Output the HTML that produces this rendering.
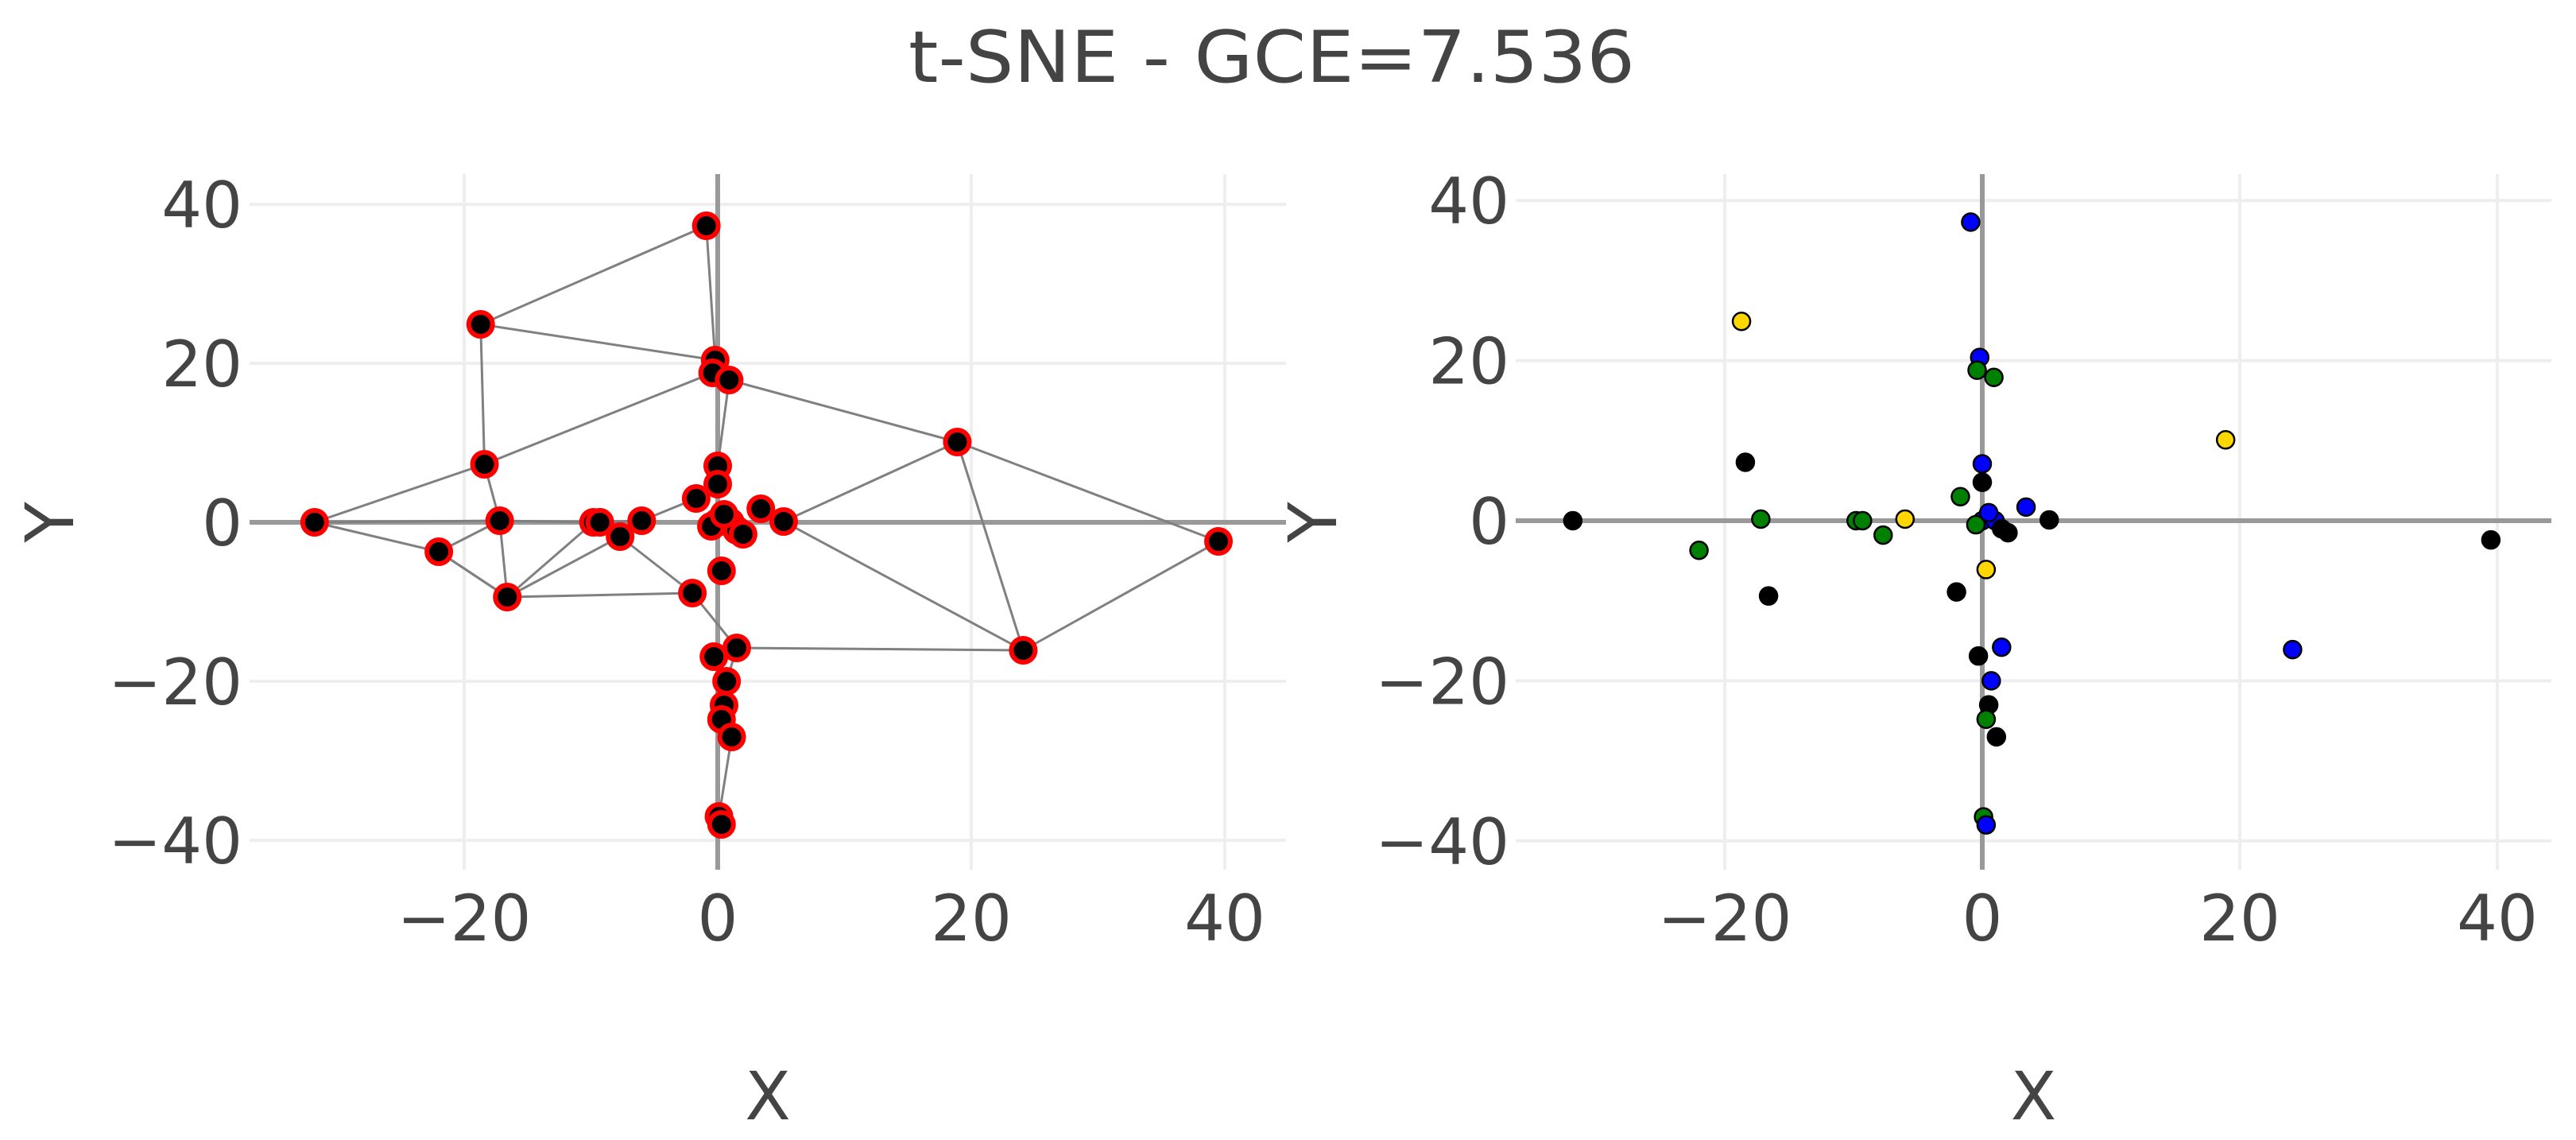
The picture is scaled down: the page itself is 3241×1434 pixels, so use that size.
<!DOCTYPE html>
<html><head><meta charset="utf-8"><style>
html,body{margin:0;padding:0;background:#fff;}
svg{display:block;}
text{font-family:"DejaVu Sans","Liberation Sans",sans-serif;fill:#444;}
</style></head><body>
<svg id="chart" width="3241" height="1434" viewBox="0 0 3241 1434" xmlns="http://www.w3.org/2000/svg">
<rect width="3241" height="1434" fill="#fff"/>
<text x="1600" y="103" font-size="90" text-anchor="middle" textLength="914" lengthAdjust="spacingAndGlyphs">t-SNE - GCE=7.536</text>
<g id="left"></g>
<g id="right"></g>
</svg>
<script>
const xTicks = [-20, 0, 20, 40];
const yTicks = [-40, -20, 0, 20, 40];
const xTickLabels = ["\u221220", "0", "20", "40"];
const yTickLabels = ["\u221240", "\u221220", "0", "20", "40"];
const pointX = [-0.9,-18.7,-0.2,-0.4,0.9,18.9,-18.4,0,0,-31.8,-17.2,-9.8,-9.3,-6.0,-7.7,-22.0,-1.7,3.4,5.2,0,1,-0.5,1.5,2,0.5,39.5,0.3,-16.6,-2.0,-0.3,1.5,24.1,0.7,0.5,0.3,1.1,0.1,0.3];
const pointY = [37.3,24.9,20.4,18.8,17.9,10.1,7.3,7.1,4.8,0,0.2,0,0,0.2,-1.8,-3.7,3.0,1.7,0.1,0,0,-0.5,-1,-1.5,1,-2.4,-6.1,-9.4,-8.9,-16.9,-15.8,-16.1,-20.0,-23.0,-24.8,-27.0,-37.0,-38.0];
const pointClass = ["blue","yellow","blue","green","green","yellow","black","blue","black","black","green","green","green","yellow","green","green","green","blue","black","blue","blue","green","black","black","blue","black","yellow","black","black","black","blue","blue","blue","black","green","black","green","blue"];
const edgeFrom = [0,0,1,1,3,4,4,5,5,5,6,6,9,15,15,15,10,27,27,27,14,13,28,30,31,18,36,9,10,12,34,33,32];
const edgeTo   = [1,2,2,6,6,5,7,25,31,18,9,10,15,10,27,27,27,11,14,28,28,16,30,31,25,31,35,10,11,13,33,32,30];
const classColors = {blue:"#0000ff", yellow:"#ffd700", green:"#008000", black:"#000000"};

const NS = "http://www.w3.org/2000/svg";
function mk(parent, tag, attrs){const e=document.createElementNS(NS,tag);for(const k in attrs)e.setAttribute(k,attrs[k]);parent.appendChild(e);return e;}

function drawPanel(g, L, R, T, B, x0px, xScale, y0px, yScale, mode, ytx){
  const sx = v => x0px + v*xScale;
  const sy = v => y0px - v*yScale;
  xTicks.forEach((t,i)=>{
    const l = mk(g,"line",{x1:sx(t),x2:sx(t),y1:T,y2:B,stroke:"#eeeeee","stroke-width":4});
    
    
    const tx = mk(g,"text",{x:sx(t),y:1183,"font-size":80,"text-anchor":"middle"});
    tx.textContent = xTickLabels[i];
    
    
  });
  yTicks.forEach((t,i)=>{
    const l = mk(g,"line",{x1:L,x2:R,y1:sy(t),y2:sy(t),stroke:"#eeeeee","stroke-width":4});
    
    
    const tx = mk(g,"text",{x:ytx,y:sy(t)+29,"font-size":80,"text-anchor":"end"});
    tx.textContent = yTickLabels[i];
    
    
  });
  const zx = mk(g,"line",{x1:L,x2:R,y1:sy(0),y2:sy(0),stroke:"#999","stroke-width":6});
  
  
  const zy = mk(g,"line",{x1:sx(0),x2:sx(0),y1:T,y2:B,stroke:"#999","stroke-width":6});
  
  
  if(mode==="graph"){
    edgeFrom.forEach((a,i)=>{
      const b = edgeTo[i];
      const e = mk(g,"line",{x1:sx(pointX[a]),y1:sy(pointY[a]),x2:sx(pointX[b]),y2:sy(pointY[b]),stroke:"#808080","stroke-width":3});
      
      
    });
    pointX.forEach((x,i)=>{
      const c = mk(g,"circle",{cx:sx(x),cy:sy(pointY[i]),r:15,fill:"#000",stroke:"#ff0000","stroke-width":6});
      
      
    });
  } else {
    pointX.forEach((x,i)=>{
      const c = mk(g,"circle",{cx:sx(x),cy:sy(pointY[i]),r:11,fill:classColors[pointClass[i]],stroke:"#000","stroke-width":2.5});
      
      
    });
  }
  const xt = mk(g,"text",{x:(L+R)/2,y:1408,"font-size":84,"text-anchor":"middle"});
  xt.textContent = "X";
  
  
}
const left = document.getElementById("left");
drawPanel(left, 314, 1618, 219, 1094, 903, 15.95, 657, 10.0, "graph", 305);
const right = document.getElementById("right");
drawPanel(right, 1907, 3210, 219, 1094, 2494, 16.2, 655, 10.07, "class", 1899);

const svg = document.getElementById("chart");
[[92,"left-y-axis-title"],[1681,"right-y-axis-title"]].forEach(([x,n])=>{
  const t = mk(svg,"text",{x:x,y:657,"font-size":84,"text-anchor":"middle",transform:`rotate(-90 ${x} 657)`});
  t.textContent = "Y";
  
  
});
</script>
</body></html>
